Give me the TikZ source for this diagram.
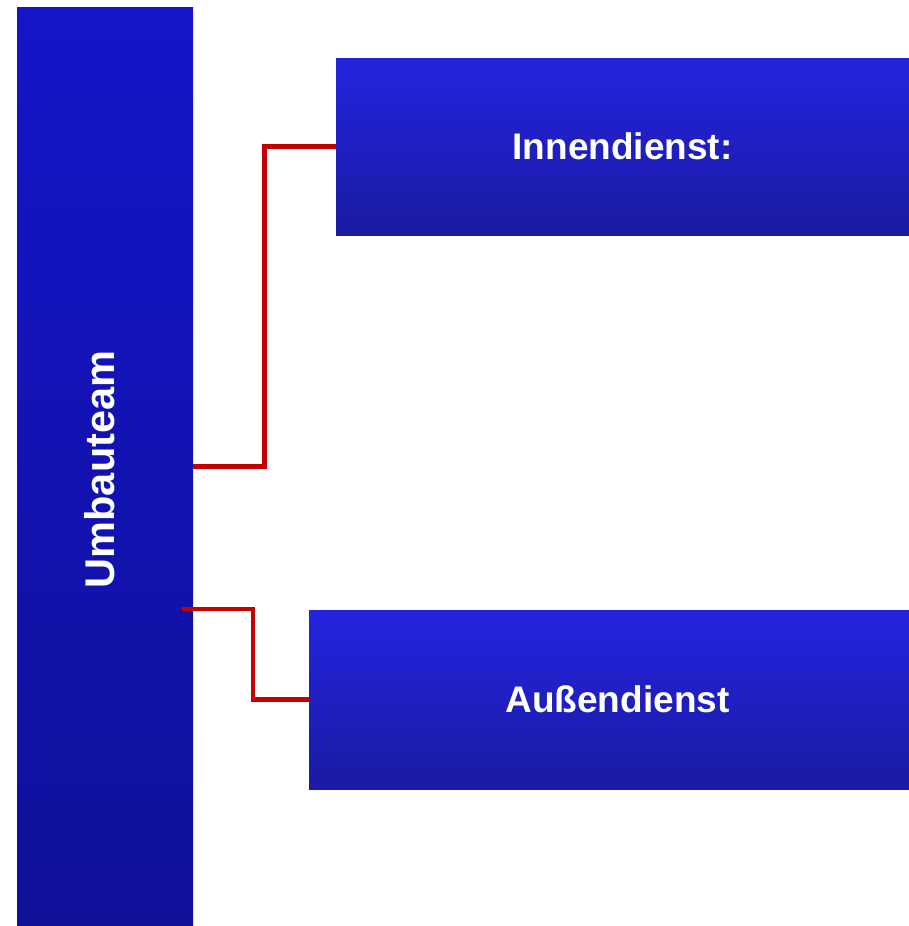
\documentclass[tikz,border=0pt]{standalone}
\usepackage{fontspec}
\setmainfont{Liberation Sans}
\definecolor{bartop}{HTML}{1515CA}
\definecolor{barbot}{HTML}{10109A}
\definecolor{boxtop}{HTML}{2424E0}
\definecolor{boxbot}{HTML}{1A1AA2}
\definecolor{linkred}{HTML}{C40000}
\tikzset{
  unitbox/.style={rectangle,inner sep=0pt,top color=boxtop,bottom color=boxbot,
    text=white,font=\fontsize{37}{44}\selectfont\bfseries},
  link/.style={draw=linkred,line width=4.8pt,line join=miter}
}
\begin{document}
\begin{tikzpicture}[x=1pt,y=-1pt]
        \useasboundingbox (0,0) rectangle (909,926);
        % team bar
        \node[unitbox,top color=bartop,bottom color=barbot,minimum width=176pt,minimum height=919pt] (bar) at (105,466.5) {};
        \node[text=white,font=\fontsize{41.5}{48}\selectfont\bfseries,rotate=90] (barlabel) at (100,469.5) {Umbauteam};
        % departments
        \node[unitbox,minimum width=573pt,minimum height=177pt] (inn) at (622.5,146.5) {Innendienst:};
        \node[unitbox,minimum width=600pt,minimum height=179pt] (aus) at (609,699.5) {\hspace*{17pt}Außendienst};
        % links
        \coordinate (j2) at (182,609);
        \draw[link] (bar.east) -- ++(71,0) |- (inn.west);
        \draw[link] (j2) -- ++(71,0) |- (aus.west);
    \end{tikzpicture}
\end{document}
